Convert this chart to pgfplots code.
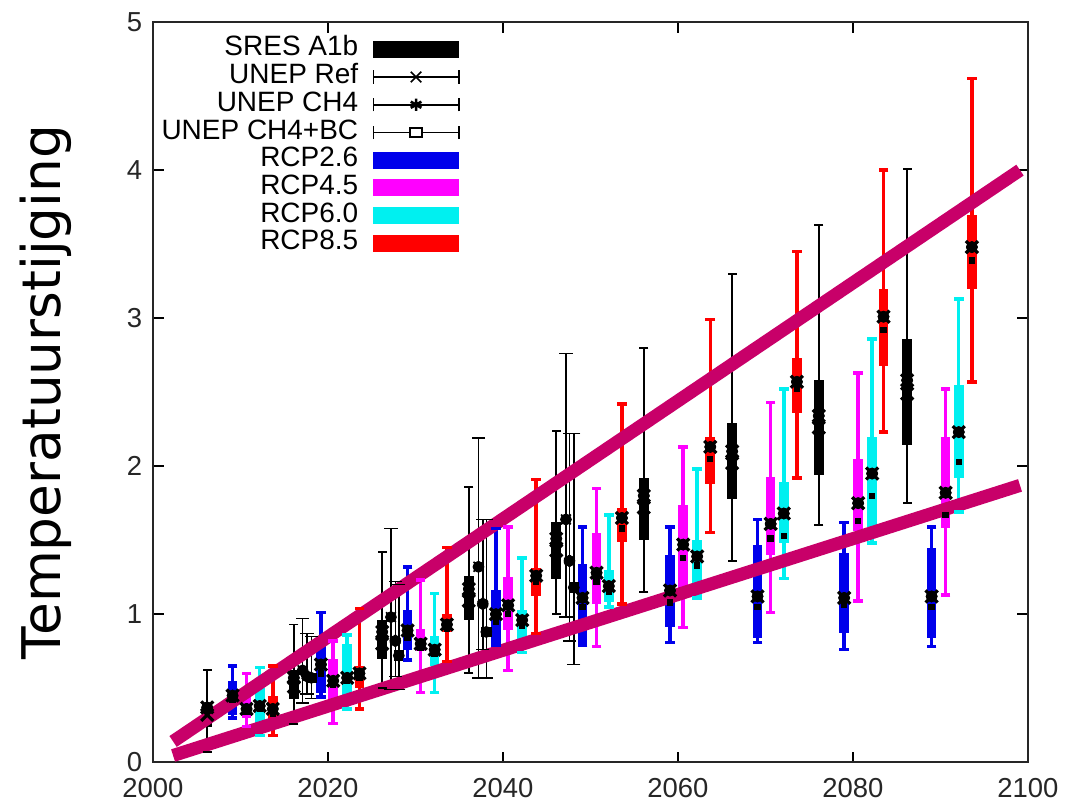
\documentclass[border=0pt]{standalone}
\usepackage{pgfplots}
\pgfplotsset{compat=1.18}
\usepackage{pgfplotstable}
\usepackage{fontspec}
\setmainfont{Liberation Sans}
\newfontfamily\dejavu{DejaVu Sans}
\definecolor{rcpblue}{RGB}{0,0,235}
\definecolor{rcpmag}{RGB}{255,0,255}
\definecolor{rcpcyan}{RGB}{0,240,240}
\definecolor{rcpred}{RGB}{255,0,0}
\definecolor{trend}{RGB}{200,0,105}

\pgfplotstableread{
x wlo whi blo bhi mx sq
2006.2 0.07 0.62 0.24 0.40 0.37 0.32
2016.1 0.26 0.93 0.43 0.62 0.57 0.51
2026.2 0.50 1.42 0.70 0.96 0.88 0.80
2036.1 0.60 1.86 0.96 1.26 1.17 1.09
2046.1 1.00 2.24 1.24 1.62 1.51 1.43
2056.1 1.15 2.80 1.50 1.92 1.80 1.72
2066.2 1.36 3.30 1.78 2.29 2.10 2.02
2076.1 1.60 3.63 1.94 2.58 2.34 2.26
2086.2 1.75 4.01 2.14 2.86 2.58 2.49
}\sres

\pgfplotstableread{
x lo hi mx
2017.1 0.40 0.97 0.62
2027.2 0.49 1.58 0.98
2037.2 0.57 2.19 1.32
2047.2 0.98 2.76 1.64
}\uref

\pgfplotstableread{
x lo hi mx
2017.6 0.46 0.87 0.58
2027.7 0.58 1.22 0.82
2037.7 0.76 1.64 1.07
2047.6 0.82 2.22 1.36
}\uch

\pgfplotstableread{
x lo hi mx
2018.1 0.43 0.85 0.57
2028.1 0.49 1.20 0.72
2038.1 0.57 1.64 0.88
2048.1 0.66 2.22 1.18
}\ubc

\pgfplotstableread{
x wlo whi blo bhi mx sq
2009.1 0.30 0.65 0.32 0.55 0.45 0.42
2019.2 0.44 1.01 0.47 0.82 0.66 0.60
2029.1 0.69 1.32 0.76 1.03 0.89 0.84
2039.2 0.79 1.58 0.80 1.16 1.00 0.95
2049.1 0.79 1.59 0.80 1.34 1.11 1.05
2059.1 0.81 1.59 0.91 1.40 1.16 1.08
2069.1 0.81 1.64 0.84 1.47 1.12 1.05
2079.0 0.76 1.62 0.87 1.41 1.11 1.06
2089.0 0.78 1.59 0.84 1.45 1.12 1.05
}\rcpa

\pgfplotstableread{
x wlo whi blo bhi mx sq
2010.7 0.24 0.60 0.30 0.45 0.36 0.34
2020.6 0.26 0.82 0.40 0.70 0.55 0.52
2030.6 0.47 1.23 0.75 0.90 0.80 0.77
2040.6 0.62 1.59 0.89 1.25 1.06 1.00
2050.7 0.78 1.85 1.07 1.55 1.28 1.22
2060.6 0.91 2.13 1.18 1.74 1.47 1.38
2070.6 1.01 2.43 1.40 1.93 1.61 1.51
2080.6 1.09 2.63 1.56 2.05 1.75 1.63
2090.6 1.13 2.52 1.58 2.20 1.82 1.67
}\rcpb

\pgfplotstableread{
x wlo whi blo bhi mx sq
2012.2 0.18 0.64 0.25 0.50 0.38 0.36
2022.2 0.36 0.86 0.45 0.80 0.57 0.55
2032.2 0.47 1.14 0.65 0.85 0.76 0.73
2042.2 0.74 1.38 0.77 1.03 0.96 0.92
2052.1 1.05 1.67 1.08 1.30 1.19 1.15
2062.2 1.11 1.98 1.12 1.50 1.39 1.33
2072.1 1.24 2.52 1.48 1.89 1.68 1.53
2082.2 1.48 2.86 1.59 2.20 1.95 1.80
2092.1 1.69 3.13 1.92 2.55 2.23 2.03
}\rcpc

\pgfplotstableread{
x wlo whi blo bhi mx sq
2013.7 0.18 0.65 0.25 0.45 0.36 0.33
2023.6 0.36 1.04 0.50 0.65 0.60 0.57
2033.6 0.68 1.45 0.88 1.00 0.93 0.90
2043.8 0.87 1.91 1.12 1.31 1.26 1.22
2053.6 1.07 2.42 1.49 1.72 1.65 1.58
2063.7 1.55 2.99 1.88 2.20 2.13 2.05
2073.6 1.92 3.45 2.36 2.73 2.57 2.52
2083.5 2.23 4.00 2.68 3.20 3.01 2.92
2093.6 2.57 4.62 3.20 3.70 3.48 3.39
}\rcpd

\pgfplotsset{
  boxb/.style n args={2}{only marks, mark=none, forget plot,
    error bars/.cd, y dir=both, y explicit, error mark=none,
    error bar style={draw=#1, line width=#2}},
  capm/.style n args={3}{only marks, forget plot, mark=-, mark size=#3, line width=#2, draw=#1, mark options={draw=#1, line width=#2}},
}

\begin{document}
\begin{tikzpicture}
\useasboundingbox (-57.4pt,-16.5pt) rectangle (342.6pt,286pt);
\begin{axis}[
  scale only axis, width=328.3pt, height=277.7pt,
  xmin=2000, xmax=2100, ymin=0, ymax=5,
  xtick={2000,2020,2040,2060,2080,2100},
  ytick={0,1,2,3,4,5},
  /pgf/number format/1000 sep={},
  /pgf/number format/assume math mode=true,
  tick label style={font=\fontsize{10.3}{12}\selectfont, text=black!85},
  xticklabel style={yshift=-2.5pt},
  yticklabel style={xshift=-0.5pt},
  tick align=inside, major tick length=4pt,
  every tick/.style={black, line width=0.6pt},
  axis line style={black!85, line width=0.7pt},
  ylabel={Temperatuurstijging},
  every axis y label/.style={at={(axis description cs:-0.122,0.5)}, rotate=90, anchor=center,
    font=\dejavu\fontsize{20}{24}\selectfont},
  legend style={at={(axis description cs:0.351,0.982)}, anchor=north east, draw=none, fill=none, inner sep=0pt,
    font=\fontsize{10.5}{12}\selectfont, nodes={inner sep=0.5pt, text height=7pt, text depth=2pt}, row sep=0.4pt},
  legend cell align=right,
  legend plot pos=right,
]
\addlegendimage{legend image code/.code={\path (0pt,0pt); \fill[black] (5pt,-3pt) rectangle (37pt,3pt);}}
\addlegendentry{SRES A1b}
\addlegendimage{legend image code/.code={\path (0pt,0pt);
  \draw[black, line width=0.6pt] (5pt,0pt)--(37pt,0pt) (5pt,-2.5pt)--(5pt,2.5pt) (37pt,-2.5pt)--(37pt,2.5pt);
  \draw[black, line width=0.6pt] plot[mark=x, mark size=2.8pt] coordinates {(21pt,0pt)};}}
\addlegendentry{UNEP Ref}
\addlegendimage{legend image code/.code={\path (0pt,0pt);
  \draw[black, line width=0.6pt] (5pt,0pt)--(37pt,0pt) (5pt,-2.5pt)--(5pt,2.5pt) (37pt,-2.5pt)--(37pt,2.5pt);
  \draw[black, line width=1pt] plot[mark=asterisk, mark size=2.3pt] coordinates {(21pt,0pt)};}}
\addlegendentry{UNEP CH4}
\addlegendimage{legend image code/.code={\path (0pt,0pt);
  \draw[black, line width=0.6pt] (5pt,0pt)--(18.8pt,0pt) (23.2pt,0pt)--(37pt,0pt) (5pt,-2.5pt)--(5pt,2.5pt) (37pt,-2.5pt)--(37pt,2.5pt);
  \draw[black, line width=0.7pt] (18.8pt,-1.7pt) rectangle (23.2pt,1.7pt);}}
\addlegendentry{UNEP CH4+BC}
\addlegendimage{legend image code/.code={\path (0pt,0pt); \fill[rcpblue] (5pt,-3pt) rectangle (37pt,3pt);}}
\addlegendentry{RCP2.6}
\addlegendimage{legend image code/.code={\path (0pt,0pt); \fill[rcpmag] (5pt,-3pt) rectangle (37pt,3pt);}}
\addlegendentry{RCP4.5}
\addlegendimage{legend image code/.code={\path (0pt,0pt); \fill[rcpcyan] (5pt,-3pt) rectangle (37pt,3pt);}}
\addlegendentry{RCP6.0}
\addlegendimage{legend image code/.code={\path (0pt,0pt); \fill[rcpred] (5pt,-3pt) rectangle (37pt,3pt);}}
\addlegendentry{RCP8.5}

% SRES A1b
\addplot[boxb={black}{0.7pt}] table[x=x, y=mx, y error plus expr=\thisrow{whi}-\thisrow{mx}, y error minus expr=\thisrow{mx}-\thisrow{wlo}] {\sres};
\addplot[capm={black}{0.7pt}{1.7pt}] table[x=x, y=whi] {\sres};
\addplot[capm={black}{0.7pt}{1.7pt}] table[x=x, y=wlo] {\sres};
\addplot[boxb={black}{3.8pt}] table[x=x, y=mx, y error plus expr=\thisrow{bhi}-\thisrow{mx}, y error minus expr=\thisrow{mx}-\thisrow{blo}] {\sres};
\addplot[only marks, forget plot, mark=x, mark size=3.2pt, line width=1.2pt, black] table[x=x, y=mx] {\sres};
\addplot[only marks, forget plot, mark=x, mark size=3.2pt, line width=1.2pt, black] table[x=x, y=sq] {\sres};

% UNEP
\addplot[boxb={black}{0.6pt}] table[x=x, y=mx, y error plus expr=\thisrow{hi}-\thisrow{mx}, y error minus expr=\thisrow{mx}-\thisrow{lo}] {\uref};
\addplot[capm={black}{0.6pt}{2.5pt}] table[x=x, y=hi] {\uref};
\addplot[capm={black}{0.6pt}{2.5pt}] table[x=x, y=lo] {\uref};
\addplot[only marks, forget plot, mark=x, mark size=2.6pt, line width=0.6pt, black] table[x=x, y=mx] {\uref};
\addplot[boxb={black}{0.6pt}] table[x=x, y=mx, y error plus expr=\thisrow{hi}-\thisrow{mx}, y error minus expr=\thisrow{mx}-\thisrow{lo}] {\uch};
\addplot[capm={black}{0.6pt}{2.5pt}] table[x=x, y=hi] {\uch};
\addplot[capm={black}{0.6pt}{2.5pt}] table[x=x, y=lo] {\uch};
\addplot[only marks, forget plot, mark=asterisk, mark size=2.2pt, line width=1pt, black] table[x=x, y=mx] {\uch};
\addplot[boxb={black}{0.6pt}] table[x=x, y=mx, y error plus expr=\thisrow{hi}-\thisrow{mx}, y error minus expr=\thisrow{mx}-\thisrow{lo}] {\ubc};
\addplot[capm={black}{0.6pt}{2.5pt}] table[x=x, y=hi] {\ubc};
\addplot[capm={black}{0.6pt}{2.5pt}] table[x=x, y=lo] {\ubc};
\addplot[only marks, forget plot, mark=square, mark size=1.6pt, line width=0.7pt, black, fill=white] table[x=x, y=mx] {\ubc};

% RCPs
\addplot[boxb={rcpblue}{1.3pt}] table[x=x, y=mx, y error plus expr=\thisrow{whi}-\thisrow{mx}, y error minus expr=\thisrow{mx}-\thisrow{wlo}] {\rcpa};
\addplot[capm={rcpblue}{1.3pt}{1.8pt}] table[x=x, y=whi] {\rcpa};
\addplot[capm={rcpblue}{1.3pt}{1.8pt}] table[x=x, y=wlo] {\rcpa};
\addplot[boxb={rcpblue}{3.6pt}] table[x=x, y=mx, y error plus expr=\thisrow{bhi}-\thisrow{mx}, y error minus expr=\thisrow{mx}-\thisrow{blo}] {\rcpa};
\addplot[boxb={rcpmag}{1.3pt}] table[x=x, y=mx, y error plus expr=\thisrow{whi}-\thisrow{mx}, y error minus expr=\thisrow{mx}-\thisrow{wlo}] {\rcpb};
\addplot[capm={rcpmag}{1.3pt}{1.8pt}] table[x=x, y=whi] {\rcpb};
\addplot[capm={rcpmag}{1.3pt}{1.8pt}] table[x=x, y=wlo] {\rcpb};
\addplot[boxb={rcpmag}{3.6pt}] table[x=x, y=mx, y error plus expr=\thisrow{bhi}-\thisrow{mx}, y error minus expr=\thisrow{mx}-\thisrow{blo}] {\rcpb};
\addplot[boxb={rcpcyan}{1.3pt}] table[x=x, y=mx, y error plus expr=\thisrow{whi}-\thisrow{mx}, y error minus expr=\thisrow{mx}-\thisrow{wlo}] {\rcpc};
\addplot[capm={rcpcyan}{1.3pt}{1.8pt}] table[x=x, y=whi] {\rcpc};
\addplot[capm={rcpcyan}{1.3pt}{1.8pt}] table[x=x, y=wlo] {\rcpc};
\addplot[boxb={rcpcyan}{3.6pt}] table[x=x, y=mx, y error plus expr=\thisrow{bhi}-\thisrow{mx}, y error minus expr=\thisrow{mx}-\thisrow{blo}] {\rcpc};
\addplot[boxb={rcpred}{1.3pt}] table[x=x, y=mx, y error plus expr=\thisrow{whi}-\thisrow{mx}, y error minus expr=\thisrow{mx}-\thisrow{wlo}] {\rcpd};
\addplot[capm={rcpred}{1.3pt}{1.8pt}] table[x=x, y=whi] {\rcpd};
\addplot[capm={rcpred}{1.3pt}{1.8pt}] table[x=x, y=wlo] {\rcpd};
\addplot[boxb={rcpred}{3.6pt}] table[x=x, y=mx, y error plus expr=\thisrow{bhi}-\thisrow{mx}, y error minus expr=\thisrow{mx}-\thisrow{blo}] {\rcpd};

\addplot[only marks, forget plot, mark=square*, mark size=1pt, black] table[x=x, y=sq] {\rcpa};
\addplot[only marks, forget plot, mark=square*, mark size=1pt, black] table[x=x, y=sq] {\rcpb};
\addplot[only marks, forget plot, mark=square*, mark size=1pt, black] table[x=x, y=sq] {\rcpc};
\addplot[only marks, forget plot, mark=square*, mark size=1pt, black] table[x=x, y=sq] {\rcpd};
\addplot[only marks, forget plot, mark=x, mark size=3.2pt, line width=1.2pt, black] table[x=x, y=mx] {\rcpa};
\addplot[only marks, forget plot, mark=x, mark size=3.2pt, line width=1.2pt, black] table[x=x, y=mx] {\rcpb};
\addplot[only marks, forget plot, mark=x, mark size=3.2pt, line width=1.2pt, black] table[x=x, y=mx] {\rcpc};
\addplot[only marks, forget plot, mark=x, mark size=3.2pt, line width=1.2pt, black] table[x=x, y=mx] {\rcpd};

% trend lines
\addplot[trend, line width=4.9pt, forget plot] coordinates {(2002.3,0.14) (2099.1,4.00)};
\addplot[trend, line width=4.9pt, forget plot] coordinates {(2002.3,0.045) (2099.1,1.87)};
\end{axis}
\end{tikzpicture}
\end{document}
